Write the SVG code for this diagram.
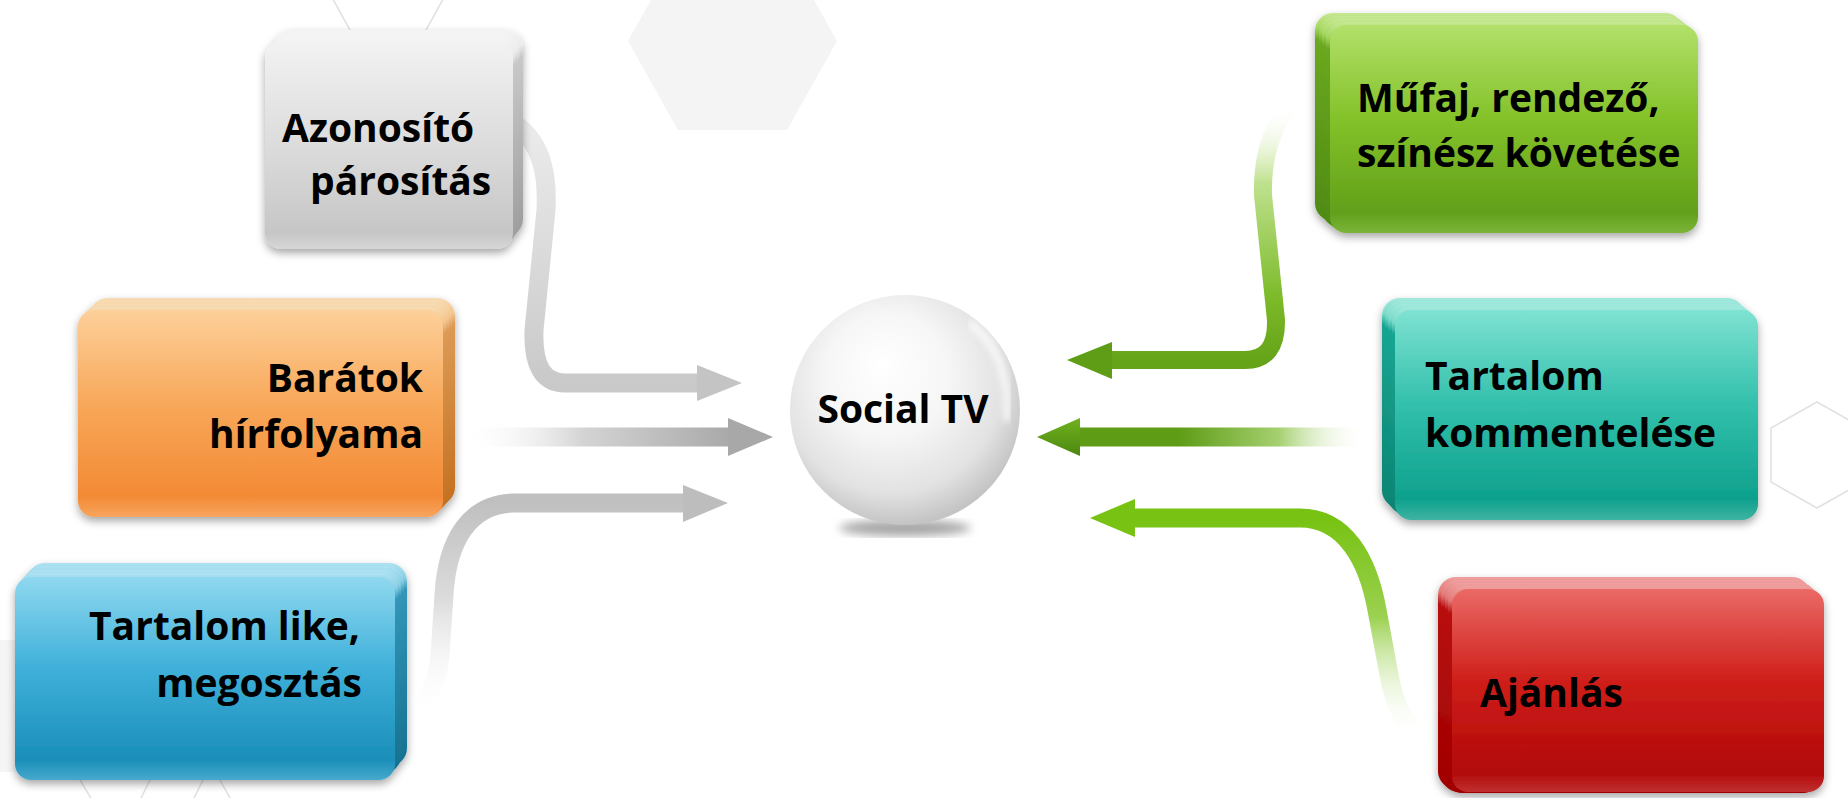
<svg xmlns="http://www.w3.org/2000/svg" width="1848" height="798" viewBox="0 0 1848 798">
<defs>
<style>
.lbl{font-family:"Open Sans","Noto Sans","DejaVu Sans",sans-serif;font-weight:700;font-size:39px;fill:#000}
.hexl{fill:none;stroke:#e2e2e2;stroke-width:1.6}
</style>
<filter id="sh" x="-10%" y="-10%" width="120%" height="130%">
<feDropShadow dx="0" dy="4" stdDeviation="4" flood-color="#000" flood-opacity="0.35"/>
</filter>
<filter id="blur6"><feGaussianBlur stdDeviation="5"/></filter>
<filter id="blur3"><feGaussianBlur stdDeviation="3"/></filter>
<linearGradient id="gF" x1="0" y1="0" x2="0" y2="1"><stop offset="0" stop-color="#f2f2f2"/><stop offset="0.5" stop-color="#dcdcdc"/><stop offset="0.92" stop-color="#c6c6c6"/><stop offset="1" stop-color="#d6d6d6"/></linearGradient>
<linearGradient id="gB" x1="0" y1="0" x2="0" y2="1"><stop offset="0" stop-color="#f4f4f4"/><stop offset="0.07" stop-color="#ececec"/><stop offset="0.13" stop-color="#c8c8c8"/><stop offset="1" stop-color="#9c9c9c"/></linearGradient>
<linearGradient id="oF" x1="0" y1="0" x2="0" y2="1"><stop offset="0" stop-color="#fdd09a"/><stop offset="0.45" stop-color="#f8a85a"/><stop offset="0.9" stop-color="#f38a35"/><stop offset="1" stop-color="#f7a560"/></linearGradient>
<linearGradient id="oB" x1="0" y1="0" x2="0" y2="1"><stop offset="0" stop-color="#f8dcb4"/><stop offset="0.07" stop-color="#f3c690"/><stop offset="0.13" stop-color="#dc9a55"/><stop offset="1" stop-color="#c36f1e"/></linearGradient>
<linearGradient id="bF" x1="0" y1="0" x2="0" y2="1"><stop offset="0" stop-color="#8fd8ef"/><stop offset="0.45" stop-color="#3fb0da"/><stop offset="0.9" stop-color="#1a8fb9"/><stop offset="1" stop-color="#48a9cd"/></linearGradient>
<linearGradient id="bB" x1="0" y1="0" x2="0" y2="1"><stop offset="0" stop-color="#aee2f2"/><stop offset="0.07" stop-color="#8bd0e6"/><stop offset="0.13" stop-color="#3296b8"/><stop offset="1" stop-color="#16708f"/></linearGradient>
<linearGradient id="grF" x1="0" y1="0" x2="0" y2="1"><stop offset="0" stop-color="#b2e06a"/><stop offset="0.45" stop-color="#84c22a"/><stop offset="0.9" stop-color="#62a01a"/><stop offset="1" stop-color="#7ab43a"/></linearGradient>
<linearGradient id="grB" x1="0" y1="0" x2="0" y2="1"><stop offset="0" stop-color="#c6e894"/><stop offset="0.07" stop-color="#a6d760"/><stop offset="0.13" stop-color="#6aa820"/><stop offset="1" stop-color="#4e8a12"/></linearGradient>
<linearGradient id="tF" x1="0" y1="0" x2="0" y2="1"><stop offset="0" stop-color="#7fe2d2"/><stop offset="0.45" stop-color="#32c0ac"/><stop offset="0.9" stop-color="#0ea18d"/><stop offset="1" stop-color="#3fb3a2"/></linearGradient>
<linearGradient id="tB" x1="0" y1="0" x2="0" y2="1"><stop offset="0" stop-color="#a2e9dd"/><stop offset="0.07" stop-color="#7ddccb"/><stop offset="0.13" stop-color="#18a592"/><stop offset="1" stop-color="#0b8373"/></linearGradient>
<linearGradient id="rF" x1="0" y1="0" x2="0" y2="1"><stop offset="0" stop-color="#ea6a66"/><stop offset="0.45" stop-color="#cf1f1a"/><stop offset="0.9" stop-color="#b20808"/><stop offset="1" stop-color="#c03030"/></linearGradient>
<linearGradient id="rB" x1="0" y1="0" x2="0" y2="1"><stop offset="0" stop-color="#f0a0a0"/><stop offset="0.07" stop-color="#e27a78"/><stop offset="0.13" stop-color="#b81010"/><stop offset="1" stop-color="#a00000"/></linearGradient>
<radialGradient id="sph" cx="0.45" cy="0.4" r="0.6" fx="0.4" fy="0.3"><stop offset="0" stop-color="#ffffff"/><stop offset="0.45" stop-color="#f6f6f6"/><stop offset="0.8" stop-color="#e2e2e2"/><stop offset="1" stop-color="#c4c4c4"/></radialGradient>
<linearGradient id="c1" gradientUnits="userSpaceOnUse" x1="0" y1="120" x2="0" y2="383"><stop offset="0" stop-color="#ececec"/><stop offset="1" stop-color="#c9c9c9"/></linearGradient>
<linearGradient id="c2" gradientUnits="userSpaceOnUse" x1="462" y1="0" x2="730" y2="0"><stop offset="0" stop-color="#ffffff" stop-opacity="0"/><stop offset="0.45" stop-color="#d4d4d4"/><stop offset="1" stop-color="#a9a9a9"/></linearGradient>
<linearGradient id="c3" gradientUnits="userSpaceOnUse" x1="0" y1="503" x2="0" y2="718"><stop offset="0" stop-color="#c0c0c0"/><stop offset="0.45" stop-color="#dcdcdc"/><stop offset="1" stop-color="#ffffff" stop-opacity="0"/></linearGradient>
<linearGradient id="c4" gradientUnits="userSpaceOnUse" x1="0" y1="105" x2="0" y2="360"><stop offset="0" stop-color="#ffffff" stop-opacity="0"/><stop offset="0.3" stop-color="#c0e290"/><stop offset="0.75" stop-color="#7dbb2a"/><stop offset="1" stop-color="#65a318"/></linearGradient>
<linearGradient id="c5" gradientUnits="userSpaceOnUse" x1="1078" y1="0" x2="1365" y2="0"><stop offset="0" stop-color="#5e9c16"/><stop offset="0.35" stop-color="#5e9c16"/><stop offset="0.7" stop-color="#a6d070"/><stop offset="1" stop-color="#ffffff" stop-opacity="0"/></linearGradient>
<linearGradient id="c6" gradientUnits="userSpaceOnUse" x1="0" y1="518" x2="0" y2="738"><stop offset="0" stop-color="#77c212"/><stop offset="0.45" stop-color="#9bd150"/><stop offset="1" stop-color="#ffffff" stop-opacity="0"/></linearGradient>
<linearGradient id="h5" x1="0" y1="0" x2="0" y2="1"><stop offset="0" stop-color="#6fb21e"/><stop offset="1" stop-color="#4d8710"/></linearGradient>
</defs>

<rect width="1848" height="798" fill="#ffffff"/>

<g id="background">
<polygon points="628,41 678,130 787,130 837,41 787,-48 678,-48" fill="#f4f4f4"/>
<polygon class="hexl" points="316,-32 352,34 424,34 460,-32"/>
<polygon class="hexl" points="1817,402 1771,428 1771,482 1817,508 1863,482 1863,428"/>
<polygon points="-40,640 30,640 60,705 30,772 -40,772" fill="#f5f5f5"/>
<line class="hexl" x1="80" y1="780" x2="92" y2="800"/>
<line class="hexl" x1="150" y1="780" x2="140" y2="800"/>
<line class="hexl" x1="203" y1="780" x2="193" y2="800"/>
<line class="hexl" x1="220" y1="780" x2="231" y2="800"/>
</g>

<g id="connectors">
<path d="M 512 122 C 540 140, 548 170, 546 210 L 534 330 Q 532 383 565 383 L 699 383" fill="none" stroke="url(#c1)" stroke-width="19"/>
<polygon points="697,365 742,383 697,401" fill="#c4c4c4"/>
<path d="M 462 437 L 730 437" fill="none" stroke="url(#c2)" stroke-width="19"/>
<polygon points="728,418 773,437 728,456" fill="#a8a8a8"/>
<path d="M 410 718 C 432 700, 440 675, 441 640 L 444 595 C 447 540, 470 503, 515 503 L 686 503" fill="none" stroke="url(#c3)" stroke-width="19"/>
<polygon points="683,485 728,503 683,522" fill="#bdbdbd"/>
<path d="M 1290 105 C 1270 130, 1262 160, 1263 195 L 1276 320 Q 1277 360 1245 360 L 1110 360" fill="none" stroke="url(#c4)" stroke-width="18"/>
<polygon points="1112,342 1067,360 1112,379" fill="#5f9d17"/>
<path d="M 1365 437 L 1078 437" fill="none" stroke="url(#c5)" stroke-width="19"/>
<polygon points="1080,418 1037,437 1080,456" fill="url(#h5)"/>
<path d="M 1133 518 L 1300 518 C 1345 518, 1368 560, 1377 610 L 1390 680 C 1395 705, 1404 720, 1416 738" fill="none" stroke="url(#c6)" stroke-width="19"/>
<polygon points="1135,499 1090,518 1135,537" fill="#77c212"/>
</g>

<g id="node-azonosito">
<g filter="url(#sh)">
<rect x="275" y="30" width="248" height="207" rx="18" fill="url(#gB)"/>
<rect x="272" y="33" width="248" height="207" rx="18" fill="url(#gB)"/>
<rect x="270" y="36" width="248" height="207" rx="17" fill="url(#gB)"/>
<rect x="267" y="39" width="248" height="207" rx="17" fill="url(#gB)"/>
<rect x="265" y="42" width="248" height="207" rx="16" fill="url(#gF)"/>
</g>
<text class="lbl" x="282" y="142">Azonosító</text>
<text class="lbl" x="310" y="195">párosítás</text>
</g>

<g id="node-baratok">
<g filter="url(#sh)">
<rect x="90" y="298" width="365" height="207" rx="18" fill="url(#oB)"/>
<rect x="87" y="301" width="365" height="207" rx="18" fill="url(#oB)"/>
<rect x="84" y="304" width="365" height="207" rx="17" fill="url(#oB)"/>
<rect x="81" y="307" width="365" height="207" rx="17" fill="url(#oB)"/>
<rect x="78" y="310" width="365" height="207" rx="16" fill="url(#oF)"/>
</g>
<text class="lbl" x="423" y="392" text-anchor="end">Barátok</text>
<text class="lbl" x="423" y="448" text-anchor="end">hírfolyama</text>
</g>

<g id="node-like">
<g filter="url(#sh)">
<rect x="27" y="563" width="380" height="203" rx="18" fill="url(#bB)"/>
<rect x="24" y="566" width="380" height="203" rx="18" fill="url(#bB)"/>
<rect x="21" y="570" width="380" height="203" rx="17" fill="url(#bB)"/>
<rect x="18" y="573" width="380" height="203" rx="17" fill="url(#bB)"/>
<rect x="15" y="577" width="380" height="203" rx="16" fill="url(#bF)"/>
</g>
<text class="lbl" x="360" y="640" text-anchor="end">Tartalom like,</text>
<text class="lbl" x="362" y="697" text-anchor="end">megosztás</text>
</g>

<g id="node-mufaj">
<g filter="url(#sh)">
<rect x="1315" y="13" width="368" height="208" rx="18" fill="url(#grB)"/>
<rect x="1319" y="16" width="368" height="208" rx="18" fill="url(#grB)"/>
<rect x="1322" y="19" width="368" height="208" rx="17" fill="url(#grB)"/>
<rect x="1326" y="22" width="368" height="208" rx="17" fill="url(#grB)"/>
<rect x="1330" y="25" width="368" height="208" rx="16" fill="url(#grF)"/>
</g>
<text class="lbl" x="1357" y="112">Műfaj, rendező,</text>
<text class="lbl" x="1357" y="167">színész követése</text>
</g>

<g id="node-komment">
<g filter="url(#sh)">
<rect x="1382" y="298" width="363" height="210" rx="18" fill="url(#tB)"/>
<rect x="1385" y="301" width="363" height="210" rx="18" fill="url(#tB)"/>
<rect x="1388" y="304" width="363" height="210" rx="17" fill="url(#tB)"/>
<rect x="1392" y="307" width="363" height="210" rx="17" fill="url(#tB)"/>
<rect x="1395" y="310" width="363" height="210" rx="16" fill="url(#tF)"/>
</g>
<text class="lbl" x="1425" y="390">Tartalom</text>
<text class="lbl" x="1425" y="447">kommentelése</text>
</g>

<g id="node-ajanlas">
<g filter="url(#sh)">
<rect x="1438" y="577" width="372" height="212" rx="18" fill="url(#rB)"/>
<rect x="1441" y="580" width="372" height="212" rx="18" fill="url(#rB)"/>
<rect x="1445" y="583" width="372" height="210" rx="17" fill="url(#rB)"/>
<rect x="1448" y="586" width="372" height="207" rx="17" fill="url(#rB)"/>
<rect x="1452" y="589" width="372" height="203" rx="16" fill="url(#rF)"/>
</g>
<text class="lbl" x="1480" y="707">Ajánlás</text>
</g>

<g id="node-socialtv">
<ellipse cx="905" cy="528" rx="66" ry="8" fill="#000" opacity="0.35" filter="url(#blur6)"/>
<circle cx="905" cy="410" r="115" fill="url(#sph)"/>
<path d="M 972 325 C 998 345, 1010 380, 1007 418" fill="none" stroke="#ffffff" stroke-width="8" opacity="0.7" stroke-linecap="round" filter="url(#blur3)"/>
<text class="lbl" x="903" y="423" text-anchor="middle">Social TV</text>
</g>
</svg>
